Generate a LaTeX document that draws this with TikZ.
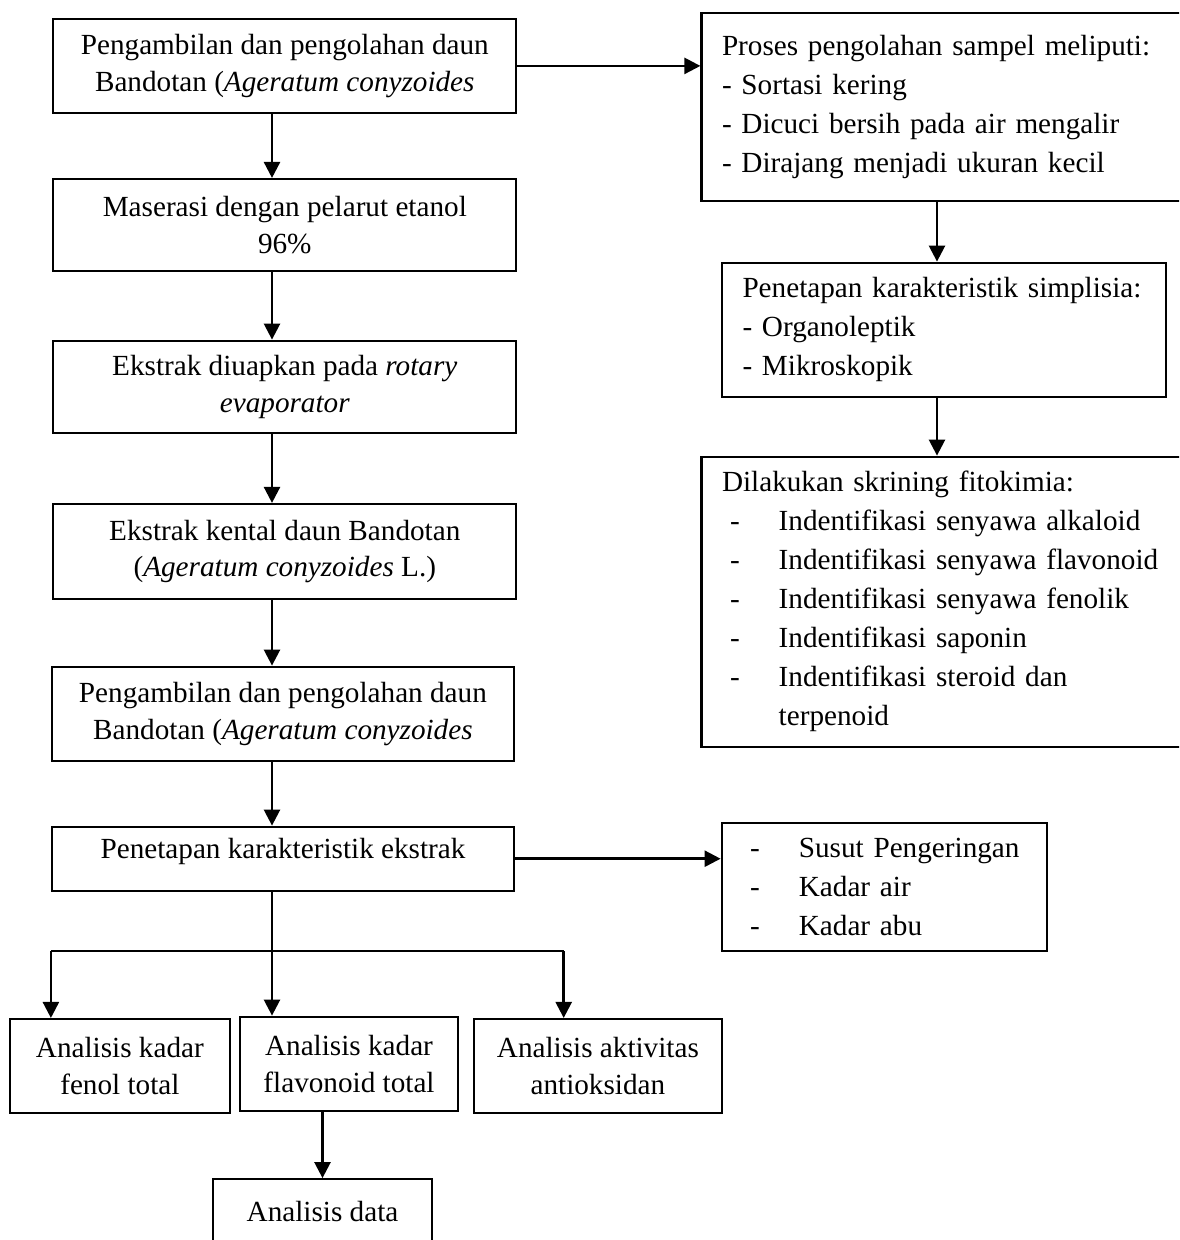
\documentclass[tikz,border=0pt]{standalone}
\usepackage{fontspec}
\setmainfont{Liberation Serif}
\usetikzlibrary{arrows.meta}
\tikzset{
  box/.style={draw, line width=2.2pt, rectangle, inner sep=0pt, align=center,
    font=\fontsize{29.2}{36.7}\selectfont},
  lbox/.style={draw, line width=2.2pt, rectangle, inner xsep=20.5pt, inner ysep=0pt, align=left,
    font=\fontsize{29.2}{39}\selectfont},
  arr/.style={line width=2.5pt, -{Triangle[length=16pt,width=16pt]}},
  ln/.style={line width=2.5pt}
}
\newcommand{\itm}{\makebox[56.7pt][l]{\hspace{8pt}-}}

\begin{document}
\begin{tikzpicture}[x=1pt,y=-1pt]
\useasboundingbox (0,0) rectangle (1179,1240);
\clip (0,0) rectangle (1179,1240);
% left column
\node[box, minimum width=463pt, minimum height=93.7pt] (b1) at (284.8,65.9) {Pengambilan dan pengolahan daun\\Bandotan (\textit{Ageratum conyzoides}};
\node[box, minimum width=463pt, minimum height=91.7pt] (b2) at (284.8,224.9) {Maserasi dengan pelarut etanol\\96\%};
\node[box, minimum width=463pt, minimum height=92pt] (b3) at (284.8,386.7) {Ekstrak diuapkan pada \textit{rotary}\\\textit{evaporator}};
\node[box, minimum width=463pt, minimum height=95pt] (b4) at (284.8,551.5) {Ekstrak kental daun Bandotan\\(\textit{Ageratum conyzoides} L.)};
\node[box, minimum width=462.3pt, minimum height=94pt] (b5) at (282.9,713.7) {Pengambilan dan pengolahan daun\\Bandotan (\textit{Ageratum conyzoides}};
\node[box, minimum width=462pt, minimum height=64pt, text depth=20pt] (b6) at (283,858.7) {Penetapan karakteristik ekstrak};
% analisis
\node[box, minimum width=220.3pt, minimum height=93.7pt] (fenol) at (119.9,1065.9) {Analisis kadar\\fenol total};
\node[box, minimum width=218pt, minimum height=94pt] (flav) at (349,1063.7) {Analisis kadar\\flavonoid total};
\node[box, minimum width=248.6pt, minimum height=93.7pt] (aktiv) at (597.9,1065.9) {Analisis aktivitas\\antioksidan};
\node[box, minimum width=219pt, minimum height=65pt] (data) at (322.5,1211.7) {Analisis data};
% right column
\node[lbox, text width=440.5pt, minimum height=188.3pt] (proses) at (942.25,106.85) {Proses pengolahan sampel meliputi:\\- Sortasi kering\\- Dicuci bersih pada air mengalir\\- Dirajang menjadi ukuran kecil};
\node[lbox, text width=403pt, minimum height=134pt] (simp) at (944,329.7) {Penetapan karakteristik simplisia:\\- Organoleptik\\- Mikroskopik};
\node[lbox, text width=440.5pt, minimum height=290pt] (skrin) at (942.25,601.7) {Dilakukan skrining fitokimia:\\\itm Indentifikasi senyawa alkaloid\\\itm Indentifikasi senyawa flavonoid\\\itm Indentifikasi senyawa fenolik\\\itm Indentifikasi saponin\\\itm Indentifikasi steroid dan\\\hspace*{56.7pt}terpenoid};
\node[lbox, text width=284pt, minimum height=128.3pt] (susut) at (884.2,886.85) {\itm Susut Pengeringan\\\itm Kadar air\\\itm Kadar abu};
% arrows
\coordinate (spine) at (272,0);
\coordinate (rspine) at (937,0);
\foreach \a/\b in {b1/b2,b2/b3,b3/b4,b4/b5,b5/b6}
  \draw[arr] (\a.south -| spine) -- (\b.north -| spine);
\draw[arr] (b1.east) -- (b1.east -| proses.west);
\draw[arr] (proses.south -| rspine) -- (simp.north -| rspine);
\draw[arr] (simp.south -| rspine) -- (skrin.north -| rspine);
\draw[arr] (b6.east) -- (b6.east -| susut.west);
% branch
\coordinate (split) at (272,951);
\coordinate (splitR) at (563.7,951);
\draw[ln] (b6.south -| spine) -- (split);
\draw[ln] (b6.west |- split) -- (splitR);
\draw[arr] (b6.west |- split) -- (b6.west |- fenol.north);
\draw[arr] (split) -- (split |- flav.north);
\draw[arr] (splitR) -- (splitR |- aktiv.north);
\draw[arr] (flav.south -| data.north) -- (data.north);
\end{tikzpicture}
\end{document}
